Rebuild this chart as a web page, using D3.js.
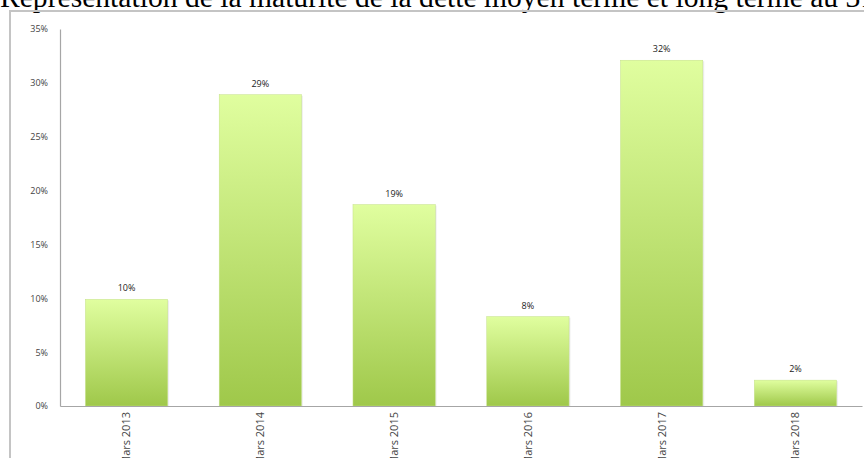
<!DOCTYPE html>
<html><head><meta charset="utf-8">
<script src="https://cdn.jsdelivr.net/npm/d3@7"></script>
<style>
html,body{margin:0;padding:0;background:#fff;overflow:hidden;}
svg{display:block;}
</style></head>
<body>
<svg id="chart" width="864" height="458"></svg>
<script>
const title = "Représentation de la maturité de la dette moyen terme et long terme au 31";
const categories = ["Mars 2013","Mars 2014","Mars 2015","Mars 2016","Mars 2017","Mars 2018"];
const values = [9.9, 28.9, 18.7, 8.3, 32.1, 2.4];
const valueLabels = ["10%","29%","19%","8%","32%","2%"];
const yTicks = [0,5,10,15,20,25,30,35];

const svg = d3.select("#chart");

// Title (clipped at top as in reference)
svg.append("text")
  .attr("x", 0).attr("y", 7)
  .attr("font-family", "'Liberation Serif','Times New Roman',serif")
  .attr("font-size", 29.6)
  .attr("fill", "#000")
  .text(title);

// Frame
svg.append("rect")
  .attr("x", 10).attr("y", 11).attr("width", 870).attr("height", 460)
  .attr("fill", "none").attr("stroke", "#c4c4c4").attr("stroke-width", 2);

const m = {left: 60, right: 862, top: 29, bottom: 406};

const x = d3.scaleBand().domain(categories).range([m.left, m.right]).paddingInner(0.385).paddingOuter(0.19);
const y = d3.scaleLinear().domain([0, 35]).range([m.bottom, m.top]);

const defs = svg.append("defs");
const grad = defs.append("linearGradient").attr("id","barGrad")
  .attr("x1",0).attr("y1",0).attr("x2",0).attr("y2",1);
grad.append("stop").attr("offset","0%").attr("stop-color","#e0fe9f");
grad.append("stop").attr("offset","100%").attr("stop-color","#9fc84a");

const gradS = defs.append("linearGradient").attr("id","shadowGrad")
  .attr("x1",0).attr("y1",0).attr("x2",1).attr("y2",0);
gradS.append("stop").attr("offset","0%").attr("stop-color","#000").attr("stop-opacity",0.12);
gradS.append("stop").attr("offset","100%").attr("stop-color","#000").attr("stop-opacity",0);

// Bars shadow
svg.append("g").selectAll("rect").data(values).join("rect")
  .attr("x", (d,i) => x(categories[i]) + x.bandwidth())
  .attr("y", d => y(d) + 1)
  .attr("width", 2)
  .attr("height", d => y(0) - y(d) - 1)
  .attr("fill", "url(#shadowGrad)");

// Bars
svg.append("g").selectAll("rect").data(values).join("rect")
  .attr("x", (d,i) => x(categories[i]))
  .attr("y", d => y(d))
  .attr("width", x.bandwidth())
  .attr("height", d => y(0) - y(d))
  .attr("fill", "url(#barGrad)")
  .attr("stroke", "#c4e088").attr("stroke-width", 0.5);

// Value labels
svg.append("g").selectAll("text").data(values).join("text")
  .attr("x", (d,i) => x(categories[i]) + x.bandwidth()/2)
  .attr("y", d => y(d) - 8)
  .attr("text-anchor", "middle")
  .attr("font-family", "'Open Sans', 'Liberation Sans', sans-serif")
  .attr("font-size", 9)
  .attr("fill", "#222")
  .text((d,i) => valueLabels[i]);

// Y axis
const yAxis = d3.axisLeft(y).tickValues(yTicks).tickSize(0).tickPadding(12).tickFormat(d => d + "%");
const gy = svg.append("g").attr("transform", `translate(${m.left},0)`).call(yAxis);
gy.select(".domain").attr("stroke", "#a6a6a6").attr("stroke-width", 1.2);
gy.selectAll("text").attr("font-family", "'Open Sans','Liberation Sans',sans-serif").attr("font-size", 9).attr("fill", "#444");

// X axis
const xAxis = d3.axisBottom(x).tickSize(0).tickPadding(0);
const gx = svg.append("g").attr("transform", `translate(0,${m.bottom})`).call(xAxis);
gx.select(".domain").attr("stroke", "#a6a6a6").attr("stroke-width", 1.2);
gx.selectAll("text")
  .attr("font-family", "'Open Sans','Liberation Sans',sans-serif").attr("font-size", 11).attr("fill", "#444")
  .attr("transform", "rotate(-90)")
  .attr("text-anchor", "end")
  .attr("x", -6).attr("y", 0).attr("dy", "0.35em");
</script>
</body></html>
